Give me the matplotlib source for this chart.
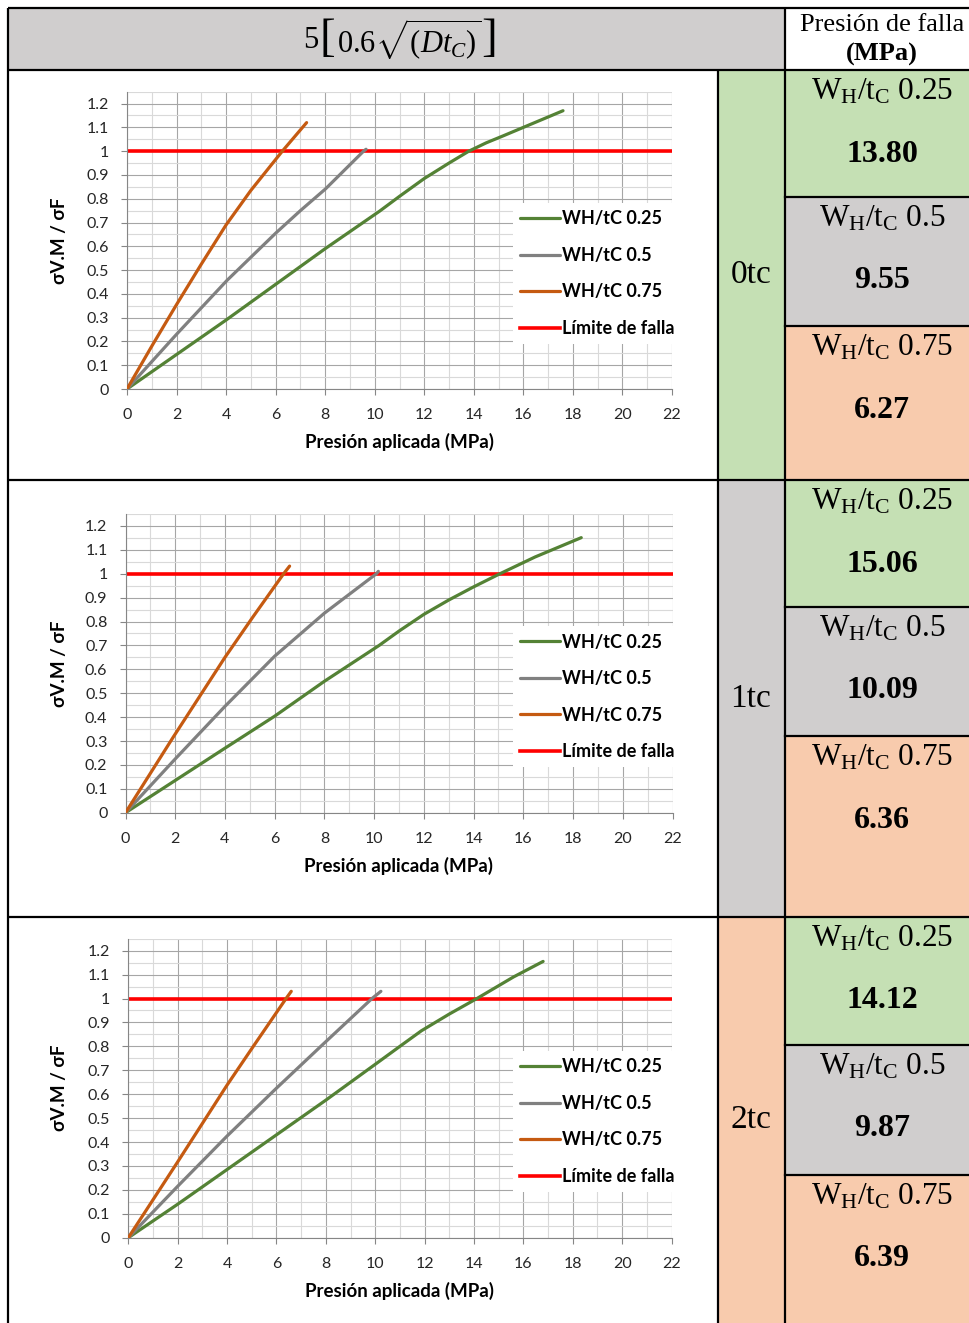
import numpy as np
import matplotlib
matplotlib.use("Agg")
import matplotlib.pyplot as plt
from matplotlib.patches import Rectangle
from matplotlib.ticker import FuncFormatter

plt.rcParams['font.family'] = ['Lato', 'DejaVu Sans']
plt.rcParams['mathtext.fontset'] = 'custom'
plt.rcParams['mathtext.rm'] = 'Liberation Serif'
plt.rcParams['mathtext.it'] = 'Liberation Serif:italic'
plt.rcParams['mathtext.bf'] = 'Liberation Serif:bold'

# ---- data ----
cases = ["0tc", "1tc", "2tc"]
series_labels = ["WH/tC 0.25", "WH/tC 0.5", "WH/tC 0.75"]
limit_label = "Límite de falla"

# 0tc
p25_0 = [0, 2, 4, 6, 8, 10.2, 11, 12, 13, 13.8, 14.5, 15.2, 16.0, 17.6]
v25_0 = [0, 0.145, 0.29, 0.44, 0.59, 0.748, 0.81, 0.885, 0.95, 1.0, 1.035, 1.065, 1.10, 1.17]
p50_0 = [0, 2, 4.04, 6, 7, 8.02, 9.55, 9.65]
v50_0 = [0, 0.23, 0.457, 0.655, 0.75, 0.842, 1.0, 1.008]
p75_0 = [0, 1, 2, 3, 4, 5, 6, 6.27, 7.25]
v75_0 = [0, 0.18, 0.355, 0.525, 0.69, 0.835, 0.965, 1.0, 1.12]
# 1tc
p25_1 = [0, 2, 4, 6, 8, 10.2, 11, 12, 13, 14, 15.06, 16.47, 18.33]
v25_1 = [0, 0.135, 0.27, 0.404, 0.55, 0.70, 0.76, 0.83, 0.89, 0.945, 1.0, 1.07, 1.151]
p50_1 = [0, 2, 4, 6, 8, 10.09, 10.17]
v50_1 = [0, 0.225, 0.445, 0.655, 0.835, 1.0, 1.01]
p75_1 = [0, 1.93, 4.0, 5.13, 6.36, 6.6]
v75_1 = [0, 0.318, 0.65, 0.82, 1.0, 1.032]
# 2tc
p25_2 = [0, 2, 4, 6, 8, 10.07, 11, 11.87, 13, 14.12, 15.6, 16.8]
v25_2 = [0, 0.14, 0.285, 0.43, 0.575, 0.73, 0.80, 0.865, 0.935, 1.0, 1.09, 1.155]
p50_2 = [0, 2, 4, 6, 7.9, 9.87, 10.23]
v50_2 = [0, 0.215, 0.425, 0.625, 0.81, 1.0, 1.03]
p75_2 = [0, 2, 4, 5.05, 6.39, 6.6]
v75_2 = [0, 0.317, 0.638, 0.798, 1.0, 1.03]

curves = [
    [(p25_0, v25_0), (p50_0, v50_0), (p75_0, v75_0)],
    [(p25_1, v25_1), (p50_1, v50_1), (p75_1, v75_1)],
    [(p25_2, v25_2), (p50_2, v50_2), (p75_2, v75_2)],
]
limit_p = [0, 22]
limit_v = [1, 1]

cell_labels = ["0.25", "0.5", "0.75"]
fail_0tc = ["13.80", "9.55", "6.27"]
fail_1tc = ["15.06", "10.09", "6.36"]
fail_2tc = ["14.12", "9.87", "6.39"]
fail_values = [fail_0tc, fail_1tc, fail_2tc]

line_colors = ['#548235', '#808080', '#c55a11']
cell_colors = ['#c5e0b4', '#d0cece', '#f8cbad']
W, H = 969, 1323

fig = plt.figure(figsize=(W / 100, H / 100), dpi=100)

# ---- table background (pixel coordinates) ----
tab = fig.add_axes([0, 0, 1, 1])
tab.set_xlim(0, W)
tab.set_ylim(H, 0)
tab.axis('off')

row_edges = [70, 480, 917, 1323]
sub_edges = [[70, 197, 326, 480], [480, 607, 736, 917], [917, 1045, 1175, 1323]]

tab.add_patch(Rectangle((8, 8), 777, 62, fc='#d0cece', ec='none'))
for i in range(3):
    y0, y1 = row_edges[i], row_edges[i + 1]
    tab.add_patch(Rectangle((718, y0), 67, y1 - y0, fc=cell_colors[i], ec='none'))
    tab.text(751, (y0 + y1) / 2, cases[i], family='Liberation Serif', fontsize=24,
             ha='center', va='center')
    for j in range(3):
        s0, s1 = sub_edges[i][j], sub_edges[i][j + 1]
        tab.add_patch(Rectangle((785, s0), W - 785, s1 - s0, fc=cell_colors[j], ec='none'))
        tab.text(882, s0 + 21, r'$\mathrm{W_H/t_C\ %s}$' % cell_labels[j],
                 fontsize=22.5, ha='center', va='center')
        tab.text(882, s0 + 84, fail_values[i][j], family='Liberation Serif',
                 fontweight='bold', fontsize=23, ha='center', va='center')
        if j > 0:
            tab.plot([785, W], [s0, s0], color='black', lw=1.6)

lk = dict(color='black', lw=1.6, solid_capstyle='butt')
tab.plot([8, W], [8, 8], **lk)
tab.plot([8, 8], [8, H], **lk)
tab.plot([785, 785], [8, H], **lk)
tab.plot([718, 718], [70, H], **lk)
for y in row_edges[:-1]:
    tab.plot([8, W], [y, y], **lk)

# header formula 5[0.6 sqrt((D t_C))]
tab.text(311, 41, '5', family='Liberation Serif', fontsize=22, ha='center', va='center')
tab.text(327, 40, '[', family='Liberation Serif', fontsize=34, ha='center', va='center')
tab.text(409, 40, r'$0.6\sqrt{(Dt_C)}$', fontsize=22, ha='center', va='center')
tab.text(489, 40, ']', family='Liberation Serif', fontsize=34, ha='center', va='center')
tab.text(882, 25, 'Presión de falla', family='Liberation Serif', fontsize=19,
         ha='center', va='center')
tab.text(882, 54, '(MPa)', family='Liberation Serif', fontsize=19, fontweight='bold',
         ha='center', va='center')

# ---- charts ----
# x of 0 and 22 MPa, y of 0 and of 1.25 (pixels)
frames = [(127, 672, 389, 91.7), (125.5, 672.5, 812.7, 514), (128.3, 671.5, 1237.7, 938.7)]
yt = np.round(np.arange(0, 1.21, 0.1), 1)

for k, (x0, x1, yb, ytop) in enumerate(frames):
    w, h = x1 - x0, yb - ytop
    ax = fig.add_axes([x0 / W, 1 - yb / H, w / W, h / H])
    ax.patch.set_alpha(0)
    for (p, v), c, lab in zip(curves[k], line_colors, series_labels):
        ax.plot(p, v, color=c, lw=2.3, label=lab, solid_capstyle='round',
                solid_joinstyle='round', zorder=3)
    ax.plot(limit_p, limit_v, color='#ff0000', lw=2.6, label=limit_label, zorder=2)

    ax.set_xlim(0, 22)
    ax.set_ylim(0, 1.25)
    ax.set_xticks(range(0, 23, 2))
    ax.set_xticks(range(0, 23), minor=True)
    ax.set_yticks(yt)
    ax.set_yticks(np.arange(0, 1.26, 0.05), minor=True)
    ax.yaxis.set_major_formatter(FuncFormatter(lambda val, pos: '{:g}'.format(val)))
    ax.set_axisbelow(True)
    ax.grid(which='major', color='#a6a6a6', lw=0.8)
    ax.grid(which='minor', color='#d9d9d9', lw=0.8)
    ax.tick_params(which='minor', length=0)
    ax.tick_params(which='major', length=4, color='#868686', width=0.8,
                   labelsize=11.5, labelcolor='#262626')
    ax.tick_params(axis='x', pad=10)
    ax.tick_params(axis='y', pad=9)
    for s in ['top', 'right']:
        ax.spines[s].set_visible(False)
    for s in ['left', 'bottom']:
        ax.spines[s].set_color('#868686')
        ax.spines[s].set_linewidth(0.8)

    ax.set_xlabel('Presión aplicada (MPa)', fontsize=13.5, fontweight='bold')
    ax.xaxis.set_label_coords(0.5, -44 / h)
    ax.set_ylabel('σV.M / σF', fontsize=13.5, fontweight='bold')
    ax.yaxis.set_label_coords((68 - x0) / w, 0.5)

    ax.legend(loc='center left', bbox_to_anchor=((513 - x0) / w, 0.388),
              frameon=True, facecolor='white', edgecolor='none', framealpha=1,
              fancybox=False, borderpad=0.4, borderaxespad=0, handlelength=2.2,
              handletextpad=0.1, labelspacing=1.08,
              prop={'weight': 'bold', 'size': 13})

fig.savefig('out.png', dpi=100)
